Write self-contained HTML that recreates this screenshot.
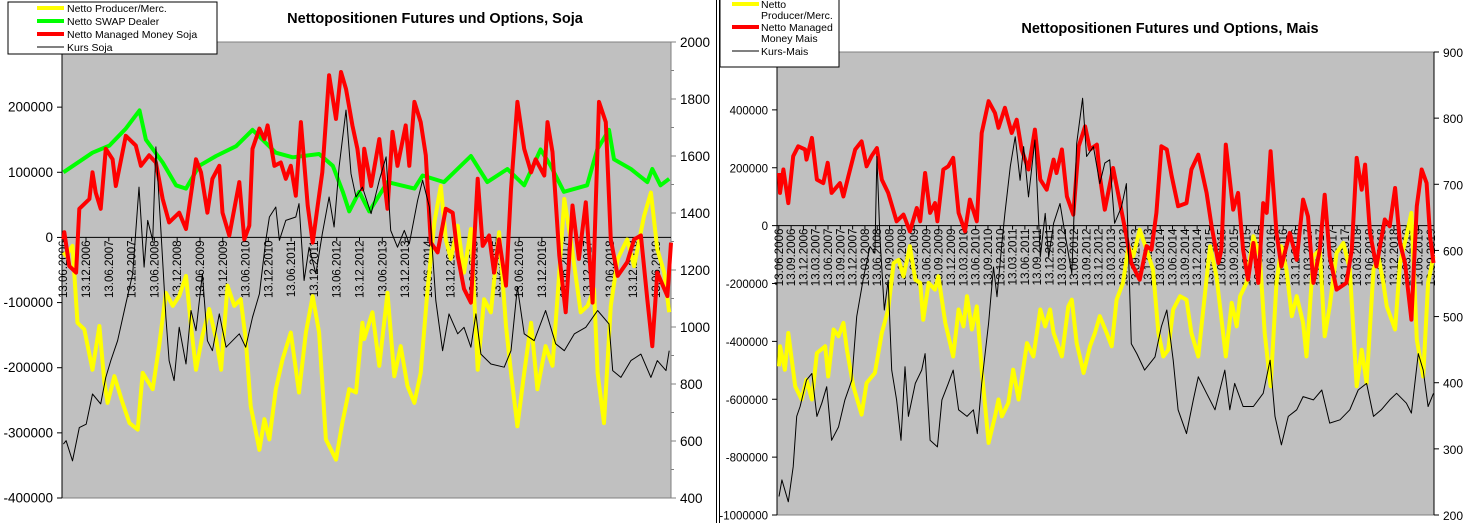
<!DOCTYPE html>
<html><head><meta charset="utf-8"><style>
body{margin:0;background:#fff;}
svg{display:block;font-family:"Liberation Sans",Arial,sans-serif;}
</style></head><body>
<svg id="c" width="1465" height="523" viewBox="0 0 1465 523" xmlns="http://www.w3.org/2000/svg"></svg>
<script>
// ===== Soja (left) data: decimal years, values in thousands of contracts / price =====
const sojaProdT=[2006.45,2006.51,2006.65,2006.76,2006.91,2007.09,2007.24,2007.35,2007.42,2007.57,2007.75,2007.90,2008.08,2008.19,2008.41,2008.55,2008.70,2008.85,2008.99,2009.14,2009.25,2009.36,2009.50,2009.65,2009.80,2009.91,2010.05,2010.20,2010.34,2010.45,2010.56,2010.75,2010.86,2010.97,2011.11,2011.26,2011.44,2011.62,2011.77,2011.92,2012.06,2012.21,2012.43,2012.57,2012.72,2012.87,2013.01,2013.05,2013.23,2013.38,2013.56,2013.71,2013.85,2014.00,2014.15,2014.29,2014.44,2014.59,2014.73,2014.84,2014.95,2015.10,2015.24,2015.39,2015.54,2015.68,2015.83,2016.01,2016.16,2016.27,2016.41,2016.56,2016.71,2016.85,2017.03,2017.18,2017.33,2017.44,2017.58,2017.80,2017.95,2018.09,2018.17,2018.31,2018.46,2018.61,2018.82,2018.97,2019.19,2019.34,2019.48,2019.63,2019.74];
const sojaProdV=[-23,-28,-13,-131,-141,-203,-136,-223,-254,-213,-254,-285,-295,-208,-233,-167,-85,-105,-90,-59,-136,-203,-151,-110,-156,-203,-74,-105,-95,-156,-259,-326,-279,-310,-233,-187,-146,-238,-146,-90,-146,-310,-341,-285,-233,-238,-131,-156,-115,-197,-85,-213,-167,-228,-254,-208,-79,23,79,-3,-33,18,-54,13,-203,-95,-115,8,-136,-208,-290,-208,-131,-233,-167,-197,-54,59,-3,-115,-105,-79,-208,-285,-105,-33,-3,-44,33,69,-18,-54,-115];
const sojaSwapT=[2006.45,2007.09,2007.46,2007.82,2008.12,2008.26,2008.63,2008.92,2009.14,2009.43,2009.80,2010.24,2010.60,2011.11,2011.48,2012.06,2012.36,2012.58,2012.72,2012.94,2013.16,2013.56,2014.15,2014.33,2014.80,2015.39,2015.75,2016.19,2016.56,2016.92,2017.14,2017.43,2017.94,2018.16,2018.42,2018.53,2018.90,2019.26,2019.37,2019.55,2019.74];
const sojaSwapV=[100,130,141,167,195,150,115,80,75,110,125,140,165,130,123,128,110,70,40,70,40,85,75,95,85,125,85,105,80,135,110,70,80,135,165,120,105,85,105,80,90];
const sojaMMT=[2006.45,2006.47,2006.58,2006.73,2006.80,2007.02,2007.09,2007.16,2007.27,2007.38,2007.53,2007.60,2007.82,2008.04,2008.15,2008.33,2008.48,2008.63,2008.77,2008.99,2009.14,2009.36,2009.47,2009.61,2009.72,2009.87,2009.94,2010.09,2010.31,2010.42,2010.53,2010.60,2010.75,2010.86,2010.93,2011.08,2011.22,2011.33,2011.44,2011.55,2011.66,2011.81,2011.92,2012.03,2012.13,2012.28,2012.43,2012.54,2012.65,2012.79,2012.90,2013.01,2013.05,2013.20,2013.38,2013.56,2013.67,2013.78,2013.96,2014.04,2014.15,2014.29,2014.40,2014.51,2014.66,2014.84,2014.99,2015.10,2015.24,2015.39,2015.54,2015.65,2015.79,2015.90,2016.01,2016.16,2016.27,2016.41,2016.56,2016.71,2016.81,2017.00,2017.07,2017.18,2017.33,2017.47,2017.62,2017.76,2017.91,2018.06,2018.20,2018.35,2018.46,2018.61,2018.82,2018.97,2019.12,2019.26,2019.37,2019.48,2019.70,2019.78];
const sojaMMV=[-3,8,-44,-54,44,59,100,69,44,136,120,79,156,141,110,126,115,59,23,38,13,120,100,38,90,110,38,3,85,-3,18,136,167,151,172,110,115,90,110,64,177,49,-8,49,100,249,182,254,228,172,136,74,136,79,151,44,162,110,172,110,208,177,126,-8,-23,44,38,-28,-79,-100,90,-13,3,-54,-3,-74,74,208,136,100,120,95,177,131,-28,-115,49,-33,54,-100,208,177,-3,-59,-38,-3,3,-95,-167,-54,-90,-8];
const sojaPriceT=[2006.45,2006.51,2006.65,2006.80,2006.95,2007.09,2007.27,2007.38,2007.49,2007.64,2007.82,2007.97,2008.11,2008.22,2008.30,2008.41,2008.48,2008.59,2008.70,2008.77,2008.88,2008.99,2009.14,2009.25,2009.36,2009.50,2009.61,2009.72,2009.87,2010.02,2010.16,2010.31,2010.45,2010.60,2010.75,2010.89,2010.97,2011.11,2011.19,2011.33,2011.55,2011.62,2011.73,2011.84,2011.99,2012.13,2012.28,2012.39,2012.50,2012.65,2012.76,2012.87,2013.01,2013.20,2013.38,2013.53,2013.63,2013.78,2013.93,2014.04,2014.22,2014.33,2014.48,2014.62,2014.77,2014.91,2015.10,2015.24,2015.39,2015.50,2015.61,2015.83,2016.12,2016.27,2016.41,2016.56,2016.78,2017.03,2017.25,2017.44,2017.66,2017.91,2018.17,2018.42,2018.50,2018.68,2018.90,2019.12,2019.34,2019.48,2019.67,2019.74];
const sojaPriceV=[589,601,530,647,659,765,730,823,882,952,1081,1187,1491,1210,1374,1304,1632,1339,1034,882,812,999,870,1058,987,1187,952,917,1046,929,952,976,929,1034,1116,1304,1386,1421,1304,1374,1386,1433,1163,1280,1187,1327,1456,1351,1562,1761,1538,1456,1491,1398,1515,1597,1339,1280,1339,1292,1444,1515,1421,1093,917,1046,976,999,929,1046,905,870,859,917,1140,976,952,1058,941,917,976,999,1058,1011,847,823,882,905,823,882,847,917];
const sojaLeftTicks=[-400000,-300000,-200000,-100000,0,100000,200000,300000];
const sojaRightTicks=[400,600,800,1000,1200,1400,1600,1800,2000];

// ===== Mais (right) data =====
const maisProdT=[2006.45,2006.47,2006.57,2006.64,2006.78,2006.91,2007.01,2007.12,2007.22,2007.39,2007.45,2007.56,2007.66,2007.76,2007.83,2007.96,2008.13,2008.23,2008.40,2008.54,2008.67,2008.78,2008.88,2008.98,2009.11,2009.22,2009.32,2009.38,2009.49,2009.62,2009.69,2009.83,2009.99,2010.10,2010.20,2010.27,2010.37,2010.47,2010.57,2010.71,2010.84,2010.91,2010.98,2011.11,2011.21,2011.32,2011.49,2011.62,2011.76,2011.86,2011.96,2012.03,2012.20,2012.33,2012.40,2012.50,2012.64,2012.77,2012.87,2012.97,2013.11,2013.21,2013.31,2013.44,2013.55,2013.65,2013.78,2013.92,2014.05,2014.16,2014.26,2014.36,2014.46,2014.60,2014.73,2014.83,2014.97,2015.10,2015.21,2015.34,2015.53,2015.65,2015.75,2015.82,2015.95,2016.09,2016.22,2016.32,2016.44,2016.56,2016.66,2016.76,2016.87,2016.97,2017.10,2017.17,2017.31,2017.44,2017.54,2017.64,2017.78,2017.92,2018.05,2018.19,2018.29,2018.39,2018.53,2018.63,2018.73,2018.80,2018.97,2019.07,2019.20,2019.30,2019.41,2019.54,2019.64,2019.75];
const maisProdV=[-486,-417,-498,-371,-555,-601,-532,-601,-440,-417,-521,-359,-382,-336,-429,-555,-653,-544,-509,-371,-290,-129,-118,-175,-71,-187,-198,-325,-198,-221,-175,-336,-452,-290,-348,-244,-359,-279,-498,-751,-659,-601,-659,-613,-498,-601,-406,-452,-290,-348,-290,-371,-452,-279,-256,-406,-509,-417,-371,-313,-371,-417,-256,-198,-71,-106,-14,-83,-152,-371,-452,-429,-290,-244,-256,-371,-452,-244,-71,-175,-452,-267,-348,-244,-198,-37,-106,-371,-555,-198,-71,-152,-313,-244,-336,-452,-106,-83,-382,-279,-94,-60,-152,-555,-429,-544,-152,-106,-198,-279,-359,-129,-37,44,-394,-521,-198,-106];
const maisMMT=[2006.45,2006.47,2006.54,2006.64,2006.74,2006.84,2006.98,2007.01,2007.12,2007.22,2007.35,2007.44,2007.52,2007.69,2007.76,2007.86,2008.00,2008.13,2008.23,2008.33,2008.44,2008.54,2008.67,2008.84,2008.98,2009.11,2009.25,2009.32,2009.42,2009.52,2009.62,2009.67,2009.79,2009.89,2009.99,2010.10,2010.23,2010.33,2010.47,2010.57,2010.71,2010.84,2010.91,2011.04,2011.18,2011.28,2011.38,2011.52,2011.65,2011.76,2011.89,2012.03,2012.09,2012.20,2012.30,2012.43,2012.54,2012.67,2012.77,2012.91,2012.97,2013.07,2013.24,2013.38,2013.51,2013.61,2013.78,2013.92,2014.02,2014.12,2014.22,2014.33,2014.43,2014.56,2014.73,2014.83,2014.97,2015.14,2015.24,2015.38,2015.44,2015.53,2015.68,2015.78,2015.88,2015.98,2016.09,2016.19,2016.29,2016.36,2016.44,2016.56,2016.66,2016.83,2016.97,2017.10,2017.20,2017.31,2017.44,2017.54,2017.64,2017.78,2017.98,2018.09,2018.19,2018.29,2018.36,2018.46,2018.59,2018.76,2018.86,2018.97,2019.07,2019.17,2019.30,2019.41,2019.51,2019.61,2019.68,2019.75];
const maisMMV=[182,113,194,78,240,274,263,228,303,159,147,217,113,147,101,171,263,291,205,240,268,159,113,15,38,-20,61,15,182,44,78,15,194,205,234,44,-20,90,15,320,430,389,338,407,320,366,263,194,332,159,124,228,182,263,101,38,274,343,263,280,171,55,199,78,-37,-129,-187,-71,-83,44,274,263,171,67,78,194,245,113,-2,-129,-83,280,55,113,-83,-187,-60,-198,78,44,257,-25,-141,-25,-118,90,32,-198,-83,107,-106,-221,-198,-83,234,124,211,-25,-141,21,-2,130,-60,-129,-325,67,194,147,-37,-129];
const maisPriceT=[2006.45,2006.51,2006.64,2006.74,2006.81,2006.88,2007.01,2007.12,2007.22,2007.32,2007.42,2007.52,2007.66,2007.79,2007.93,2008.03,2008.17,2008.30,2008.40,2008.44,2008.50,2008.59,2008.67,2008.74,2008.84,2008.93,2009.01,2009.08,2009.22,2009.35,2009.42,2009.52,2009.67,2009.76,2009.89,2009.99,2010.10,2010.27,2010.40,2010.48,2010.57,2010.71,2010.81,2010.88,2010.98,2011.04,2011.15,2011.25,2011.35,2011.42,2011.52,2011.65,2011.76,2011.86,2011.93,2012.03,2012.16,2012.26,2012.40,2012.50,2012.62,2012.70,2012.84,2012.97,2013.07,2013.17,2013.27,2013.41,2013.51,2013.61,2013.72,2013.88,2014.09,2014.22,2014.33,2014.46,2014.56,2014.73,2014.87,2014.97,2015.14,2015.31,2015.51,2015.61,2015.71,2015.88,2016.09,2016.29,2016.43,2016.53,2016.66,2016.80,2016.97,2017.10,2017.31,2017.48,2017.64,2017.85,2018.05,2018.22,2018.39,2018.53,2018.69,2018.86,2019.00,2019.20,2019.30,2019.44,2019.54,2019.64,2019.75];
const maisPriceV=[228,253,220,273,349,364,404,414,349,369,394,313,333,374,404,500,560,606,596,742,621,510,555,419,374,313,424,349,399,419,444,313,303,374,399,419,359,349,359,323,399,490,575,530,611,656,727,772,706,757,681,767,590,656,590,641,671,626,565,762,830,742,757,701,732,737,641,666,701,459,444,419,439,485,510,434,359,323,374,409,384,359,419,359,399,364,364,384,434,349,306,349,359,379,374,389,339,344,359,389,399,349,359,374,384,369,354,444,419,364,384];
const maisLeftTicks=[-1000000,-800000,-600000,-400000,-200000,0,200000,400000];
const maisRightTicks=[200,300,400,500,600,700,800,900];

const NS='http://www.w3.org/2000/svg';
const svg=document.getElementById('c');
function mk(tag,attrs,parent,text){const e=document.createElementNS(NS,tag);for(const k in attrs)e.setAttribute(k,attrs[k]);if(text!==undefined)e.textContent=text;(parent||svg).appendChild(e);return e;}

function drawChart(cfg){
  const g=mk('g',{});
  
  
  const P=cfg.plot;
  const xs=t=>P.x0+(t-cfg.t0)/(cfg.t1-cfg.t0)*(P.x1-P.x0);
  const yl=v=>P.y1-(v-cfg.lmin)/(cfg.lmax-cfg.lmin)*(P.y1-P.y0);
  const yr=v=>P.y1-(v-cfg.rmin)/(cfg.rmax-cfg.rmin)*(P.y1-P.y0);
  const bg=mk('rect',{x:P.x0,y:P.y0,width:P.x1-P.x0,height:P.y1-P.y0,fill:'#c0c0c0',stroke:'#808080','stroke-width':1},g);
  
  
  const t=mk('text',{x:cfg.titleX,y:cfg.titleY,'font-size':'14.5','font-weight':'bold','text-anchor':'middle'},g,cfg.title);
  
  
  // left axis
  const la=mk('g',{},g);
  
  
  mk('line',{x1:P.x0,y1:P.y0,x2:P.x0,y2:P.y1,stroke:'#000'},la);
  cfg.lticks.forEach(v=>{const y=yl(v);mk('line',{x1:P.x0-5,y1:y,x2:P.x0,y2:y,stroke:'#000'},la);
    mk('text',{x:P.x0-9,y:y+4.5,'font-size':cfg.lfs,'text-anchor':'end'},la,String(v));});
  // right axis
  const ra=mk('g',{},g);
  
  
  mk('line',{x1:P.x1,y1:P.y0,x2:P.x1,y2:P.y1,stroke:cfg.raxisColor},ra);
  cfg.rticks.forEach((v,i)=>{const y=yr(v);mk('line',{x1:P.x1,y1:y,x2:P.x1+5,y2:y,stroke:cfg.raxisColor},ra);
    if(cfg.rminor&&i<cfg.rticks.length-1){const y2=yr((v+cfg.rticks[i+1])/2);mk('line',{x1:P.x1,y1:y2,x2:P.x1+3,y2:y2,stroke:cfg.raxisColor},ra);}
    mk('text',{x:P.x1+9,y:y+5,'font-size':cfg.rfs},ra,String(v));});
  // zero line + category labels
  const y0=yl(0);
  const xa=mk('g',{},g);
  
  
  mk('line',{x1:P.x0,y1:y0,x2:P.x1,y2:y0,stroke:'#000'},xa);
  cfg.labels.forEach(lb=>{const x=xs(lb.t);mk('line',{x1:x,y1:y0,x2:x,y2:y0+4,stroke:'#000'},xa);
    mk('text',{x:0,y:0,'font-size':'11.5','text-anchor':'end',transform:`translate(${x+4},${y0+3}) rotate(-90)`},xa,lb.s);});
  function line(T,V,scale,color,w,name){
    const d=T.map((tt,i)=>(i?'L':'M')+xs(tt).toFixed(1)+','+scale(V[i]).toFixed(1)).join('');
    const p=mk('path',{d:d,fill:'none',stroke:color,'stroke-width':w,'stroke-linejoin':'round'},g);
    
    
  }
  cfg.series.forEach(s=>line(s.T,s.V.map(v=>s.right?v:v*1000),s.right?yr:yl,s.color,s.w,s.name));
  // legend
  const L=cfg.legend;
  const lg=mk('g',{},g);
  
  
  mk('rect',{x:L.x,y:L.y,width:L.w,height:L.h,fill:'#fff',stroke:'#000','stroke-width':1},lg);
  L.items.forEach(it=>{
    const e=mk('g',{},lg);
    
    
    mk('line',{x1:L.lx0,y1:it.ly,x2:L.lx1,y2:it.ly,stroke:it.color,'stroke-width':it.w},e);
    it.lines.forEach((s,j)=>mk('text',{x:L.tx,y:it.ly+4+j*11,'font-size':'10.5'},e,s));
  });
}

function fmt(y,m){return '13.'+(m<10?'0':'')+m+'.'+y;}
const sojaLabels=[];for(let y=2006;y<=2019;y++){[6,12].forEach(m=>{const t=y+(m-1)/12+0.03;if(t>=2006.4&&t<=2019.5)sojaLabels.push({t:t,s:fmt(y,m)});});}
const maisLabels=[];for(let y=2006;y<=2019;y++){[3,6,9,12].forEach(m=>{const t=y+(m-1)/12+0.03;if(t>=2006.4&&t<=2019.75)maisLabels.push({t:t,s:fmt(y,m)});});}

drawChart({name:'soja-chart',plot:{x0:62,x1:671,y0:42,y1:498},t0:2006.42,t1:2019.78,
  lmin:-400000,lmax:300000,rmin:400,rmax:2000,lticks:sojaLeftTicks,rticks:sojaRightTicks,lfs:'13.5',rfs:'13.5',raxisColor:'#808080',rminor:true,
  title:'Nettopositionen Futures und Options, Soja',titleX:435,titleY:23,labels:sojaLabels,
  series:[{T:sojaProdT,V:sojaProdV,color:'#ffff00',w:4,name:'producer-merc-line'},
          {T:sojaSwapT,V:sojaSwapV,color:'#00ff00',w:4,name:'swap-dealer-line'},
          {T:sojaMMT,V:sojaMMV,color:'#ff0000',w:4,name:'managed-money-line'},
          {T:sojaPriceT,V:sojaPriceV,color:'#000',w:1,name:'price-line',right:true}],
  legend:{x:8,y:2,w:209,h:52,lx0:37,lx1:64,tx:67,items:[
    {ly:8,color:'#ffff00',w:4,lines:['Netto Producer/Merc.']},
    {ly:21,color:'#00ff00',w:4,lines:['Netto SWAP Dealer']},
    {ly:34,color:'#ff0000',w:4,lines:['Netto Managed Money Soja']},
    {ly:47,color:'#000',w:1,lines:['Kurs Soja']}]}});

// separator axis lines between charts
const sep=mk('g',{});


mk('line',{x1:716.5,y1:0,x2:716.5,y2:523,stroke:'#000'},sep);
mk('line',{x1:719.5,y1:0,x2:719.5,y2:523,stroke:'#000'},sep);

drawChart({name:'mais-chart',plot:{x0:777,x1:1434,y0:52,y1:515},t0:2006.41,t1:2019.76,
  lmin:-1000000,lmax:600000,rmin:200,rmax:900,lticks:maisLeftTicks,rticks:maisRightTicks,lfs:'11.5',rfs:'12',raxisColor:'#000',rminor:false,
  title:'Nettopositionen Futures und Options, Mais',titleX:1170,titleY:33,labels:maisLabels,
  series:[{T:maisProdT,V:maisProdV,color:'#ffff00',w:4,name:'producer-merc-line'},
          {T:maisMMT,V:maisMMV,color:'#ff0000',w:4,name:'managed-money-line'},
          {T:maisPriceT,V:maisPriceV,color:'#000',w:1,name:'price-line',right:true}],
  legend:{x:720,y:-1,w:119,h:68,lx0:732,lx1:759,tx:761,items:[
    {ly:4,color:'#ffff00',w:4,lines:['Netto','Producer/Merc.']},
    {ly:27,color:'#ff0000',w:4,lines:['Netto Managed','Money Mais']},
    {ly:51,color:'#000',w:1,lines:['Kurs-Mais']}]}});
</script>
</body></html>
